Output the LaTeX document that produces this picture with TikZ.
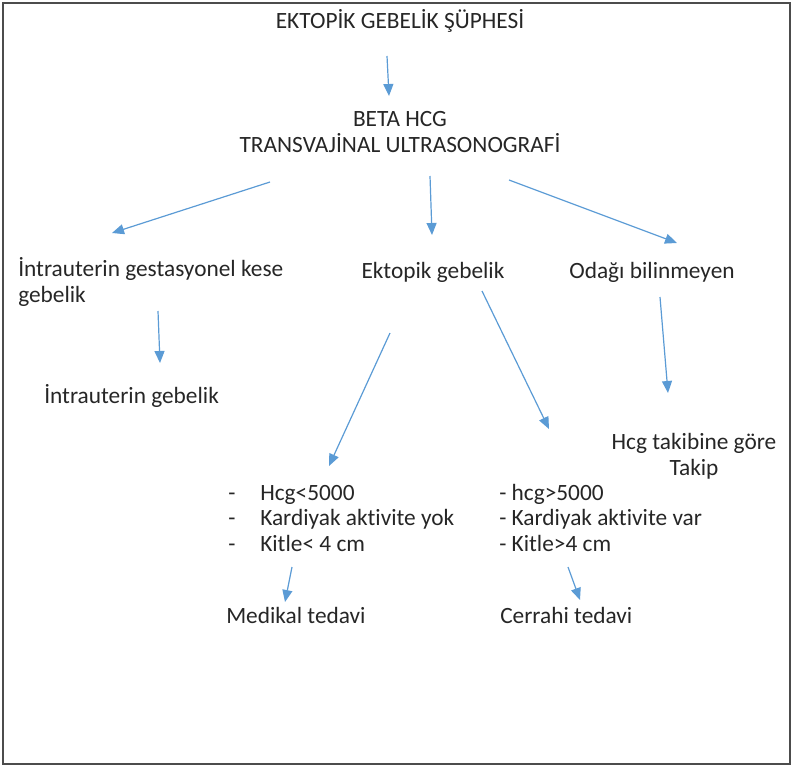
\documentclass[tikz,border=0pt]{standalone}
\usepackage{fontspec}
\setmainfont{Carlito}[Ligatures=NoCommon]
\usetikzlibrary{arrows.meta}
\definecolor{arrblue}{RGB}{91,155,213}
\definecolor{txtgray}{RGB}{38,38,38}

\tikzstyle{txt} = [inner sep=0pt, text=txtgray, font=\fontsize{17.5}{19.1}\selectfont]
\tikzstyle{arr} = [-{Triangle[length=9pt,width=7.5pt]}, arrblue, line width=0.9pt]

\begin{document}
\begin{tikzpicture}[x=0.75pt,y=-0.75pt]
  \useasboundingbox (0,0) rectangle (792,767);
  \draw[gray!60!black, line width=1.2pt] (3,3) rectangle (790,764);
  \node at (400,29)  (susp)    [txt,anchor=base] {EKTOPİK GEBELİK ŞÜPHESİ};
  \node at (400,152) (tvus)    [txt,anchor=base,align=center] {BETA HCG\\TRANSVAJİNAL ULTRASONOGRAFİ};
  \node at (18,302)  (gest)    [txt,anchor=base west,align=left] {İntrauterin gestasyonel kese\\gebelik};
  \node at (433,278) (ekt)     [txt,anchor=base] {Ektopik gebelik};
  \node at (652,278) (odak)    [txt,anchor=base] {Odağı bilinmeyen};
  \node at (44,403)  (iug)     [txt,anchor=base west] {İntrauterin gebelik};
  \node at (694,475) (takip)   [txt,anchor=base,align=center] {Hcg takibine göre\\Takip};
  \node at (228,551) (crit-m)  [txt,anchor=base west,align=left]
    {\makebox[24pt][l]{-}Hcg<5000\\\makebox[24pt][l]{-}Kardiyak aktivite yok\\\makebox[24pt][l]{-}Kitle< 4 cm};
  \node at (499,551) (crit-c)  [txt,anchor=base west,align=left]
    {- hcg>5000\\- Kardiyak aktivite var\\- Kitle>4 cm};
  \node at (226,623) (medikal) [txt,anchor=base west] {Medikal tedavi};
  \node at (500,623) (cerrahi) [txt,anchor=base west] {Cerrahi tedavi};
  % arrow ends
  \coordinate (susp-o)   at (387,56);
  \coordinate (tvus-i)   at (389,96);
  \coordinate (tvus-o1)  at (270,182);
  \coordinate (tvus-o2)  at (430,176);
  \coordinate (tvus-o3)  at (509,180);
  \coordinate (gest-i)   at (112,233);
  \coordinate (ekt-i)    at (432,235);
  \coordinate (odak-i)   at (677,243);
  \coordinate (gest-o)   at (158,311);
  \coordinate (iug-i)    at (160,363);
  \coordinate (ekt-o1)   at (390,333);
  \coordinate (ekt-o2)   at (482,291);
  \coordinate (crit-m-i) at (329,466);
  \coordinate (crit-c-i) at (549,429);
  \coordinate (odak-o)   at (660,297);
  \coordinate (takip-i)  at (668,393);
  \coordinate (crit-m-o) at (292,567);
  \coordinate (crit-c-o) at (568,567);
  \coordinate (med-i)    at (285,602);
  \coordinate (cer-i)    at (580,600);
  \path[arr] (susp-o) edge (tvus-i)
             (tvus-o1) edge (gest-i)
             (tvus-o2) edge (ekt-i)
             (tvus-o3) edge (odak-i)
             (gest-o) edge (iug-i)
             (ekt-o1) edge (crit-m-i)
             (ekt-o2) edge (crit-c-i)
             (odak-o) edge (takip-i)
             (crit-m-o) edge (med-i)
             (crit-c-o) edge (cer-i) ;
\end{tikzpicture}
\end{document}
